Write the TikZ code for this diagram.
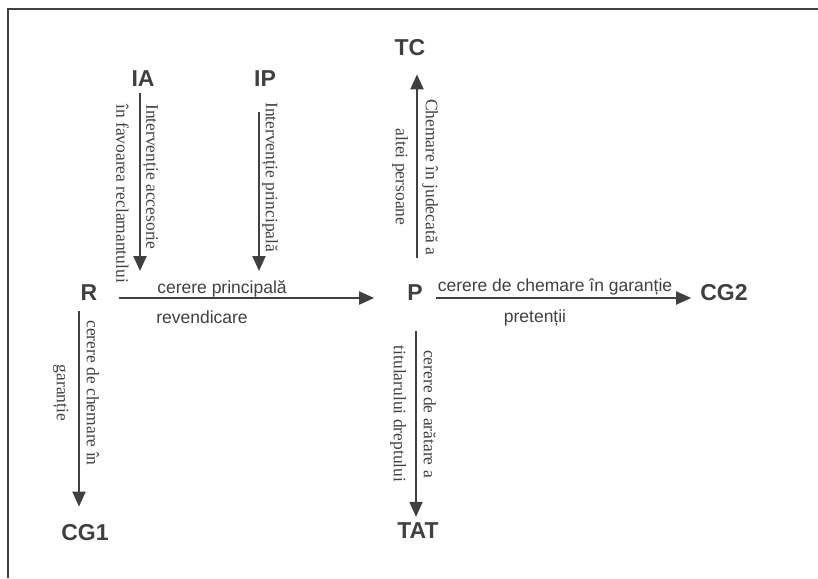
\documentclass[tikz,border=0pt]{standalone}
\usepackage{fontspec}
\setmainfont{Liberation Sans}
\newfontfamily\rotfont{Liberation Serif}
\usetikzlibrary{arrows.meta}
\definecolor{ink}{RGB}{64,64,64}
\tikzset{>={Triangle[width=13pt,length=15pt]}}

\begin{document}
\begin{tikzpicture}[x=1pt,y=-1pt,
  lbl/.style={font={\bfseries\fontsize{23}{23}\selectfont},text=ink,inner sep=0pt},
  txt/.style={font={\fontsize{17.5}{20}\selectfont},text=ink,inner sep=0pt,anchor=base},
  vtxt/.style={font={\rotfont\fontsize{17.5}{30}\selectfont},text=ink,inner sep=0pt,rotate=-90},
  arr/.style={->,draw=ink,line width=2pt}]
\useasboundingbox (0,0) rectangle (818,578);
\draw[ink,line width=1.6pt] (818,9) -- (8,9) -- (8,578);
\node[lbl] (TC) at (410,48) {TC};
\node[lbl] (IA) at (143,79) {IA};
\node[lbl] (IP) at (265,79) {IP};
\node[lbl] (R) at (89,293) {R};
\node[lbl] (P) at (415,293) {P};
\node[lbl] (CG2) at (724,293) {CG2};
\node[lbl] (CG1) at (85,533) {CG1};
\node[lbl] (TAT) at (418,531) {TAT};
\coordinate (ia end) at (140,271);
\coordinate (ip end) at (259,271);
\draw[arr,shorten <=6pt] ([xshift=-3pt]IA.south) -- (ia end);
\draw[arr,shorten <=25pt] ([xshift=-6pt]IP.south) -- (ip end);
\draw[arr,shorten <=21pt,shorten >=33pt] ([yshift=-5pt]R.east) -- ([yshift=-5pt]P.west);
\draw[arr,shorten <=13pt,shorten >=9pt] ([yshift=-5pt]P.east) -- ([yshift=-5pt]CG2.west);
\draw[arr,shorten <=27pt,shorten >=18pt] ([xshift=2pt]P.north) -- ([xshift=7pt]TC.south);
\draw[arr,shorten <=30pt,shorten >=6pt] ([xshift=1pt]P.south) -- ([xshift=-2pt]TAT.north);
\draw[arr,shorten <=10pt,shorten >=18pt] ([xshift=-10pt]R.south) -- ([xshift=-6pt]CG1.north);
\node[txt] (princ) at (222,293) {cerere principală};
\node[txt] (rev) at (202,323) {revendicare};
\node[txt] (gar) at (555,291) {cerere de chemare în garanție};
\node[txt] (pret) at (535,322) {pretenții};
\node[vtxt,align=left,anchor=west] (acc) at (137,104) {Intervenție accesorie\\în favoarea reclamantului};
\node[vtxt,anchor=west] (pr) at (270,102) {Intervenție principală};
\node[vtxt,align=center] (jud) at (415,177) {Chemare în judecată a\\altei persoane};
\node[vtxt,align=center] (cgar) at (76,393) {cerere de chemare în\\garanție};
\node[vtxt,align=center] (arat) at (413,414) {cerere de arătare a\\titularului dreptului};
\end{tikzpicture}
\end{document}
